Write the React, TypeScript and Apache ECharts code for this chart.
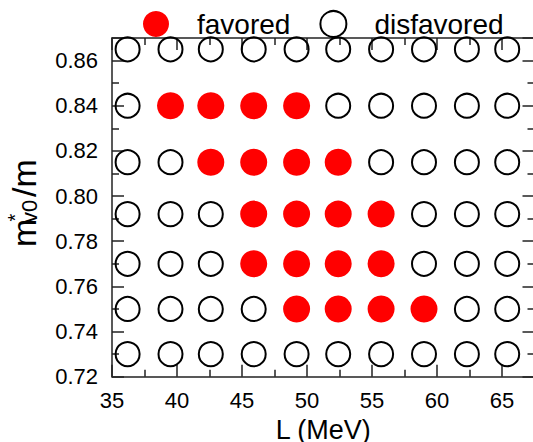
import React, { useEffect, useRef } from "react";
import * as echarts from "echarts";

// L (MeV) positions of the grid columns
const L_VALUES = [36.2, 39.5, 42.6, 45.9, 49.2, 52.4, 55.7, 59.0, 62.3, 65.4];
// m*_v0/m positions of the grid rows
const M_VALUES = [0.73, 0.75, 0.77, 0.792, 0.815, 0.84, 0.865];
// 1 = favored, 0 = disfavored ; one row per M_VALUES entry, one column per L_VALUES entry
const FAVORED = [
  [0, 0, 0, 0, 0, 0, 0, 0, 0, 0],
  [0, 0, 0, 0, 1, 1, 1, 1, 0, 0],
  [0, 0, 0, 1, 1, 1, 1, 0, 0, 0],
  [0, 0, 0, 1, 1, 1, 1, 0, 0, 0],
  [0, 0, 1, 1, 1, 1, 0, 0, 0, 0],
  [0, 1, 1, 1, 1, 0, 0, 0, 0, 0],
  [0, 0, 0, 0, 0, 0, 0, 0, 0, 0],
];
const SERIES_NAMES = ["favored", "disfavored"];
const X_MIN = 35;
const X_MAX = 67.5;
const X_INTERVAL = 5;
const Y_MIN = 0.72;
const Y_MAX = 0.87;
const Y_INTERVAL = 0.02;

const FONT = "'Liberation Sans', Arial, Helvetica, sans-serif";
const NARROW = "'Liberation Sans Narrow', 'Liberation Sans', Arial, sans-serif";

export default function App() {
  const ref = useRef<HTMLDivElement>(null);
  useEffect(() => {
    if (!ref.current) return;
    const chart = echarts.init(ref.current, undefined, { renderer: "svg" });
    const fav: number[][] = [];
    const dis: number[][] = [];
    M_VALUES.forEach((m, r) => {
      L_VALUES.forEach((l, c) => {
        (FAVORED[r][c] ? fav : dis).push([l, m]);
      });
    });
    const line = { color: "#222", width: 1.5 };
    const xBase = {
      type: "value" as const,
      min: X_MIN,
      max: X_MAX,
      interval: X_INTERVAL,
      axisLine: { show: true, onZero: false, lineStyle: line },
      axisTick: { show: true, inside: true, length: 12, lineStyle: line },
      minorTick: { show: true, splitNumber: 2, length: 7, lineStyle: line },
      splitLine: { show: false },
    };
    const yBase = {
      type: "value" as const,
      min: Y_MIN,
      max: Y_MAX,
      interval: Y_INTERVAL,
      axisLine: { show: true, onZero: false, lineStyle: line },
      axisTick: { show: true, inside: true, length: 12, lineStyle: line },
      minorTick: { show: true, splitNumber: 2, length: 7, lineStyle: line },
      splitLine: { show: false },
    };
    chart.setOption({
      animation: false,
      textStyle: { fontFamily: FONT },
      grid: { left: 112, top: 38, width: 422.5, height: 338.7, containLabel: false, outerBoundsMode: "none" },
      legend: {
        data: SERIES_NAMES,
        left: 143,
        top: 10,
        padding: 0,
        itemWidth: 26,
        itemHeight: 26,
        itemGap: 29,
        textStyle: { fontSize: 28, color: "#000", fontFamily: FONT, padding: [0, 0, 0, 23] },
      },
      xAxis: [
        {
          ...xBase,
          position: "bottom",
          axisLabel: { fontSize: 22, color: "#000", margin: 13, showMaxLabel: false, fontFamily: FONT },
          name: "L (MeV)",
          nameLocation: "middle",
          nameGap: 42,
          nameTextStyle: { fontSize: 27, lineHeight: 22, color: "#000", fontFamily: FONT },
        },
        { ...xBase, position: "top", axisLabel: { show: false } },
      ],
      yAxis: [
        {
          ...yBase,
          position: "left",
          axisLabel: {
            fontSize: 22,
            color: "#000",
            margin: 14,
            showMaxLabel: false,
            fontFamily: FONT,
            formatter: (v: number) => v.toFixed(2),
          },
        },
        { ...yBase, position: "right", axisLabel: { show: false } },
      ],
      graphic: [
        {
          type: "group",
          x: 36,
          y: 247,
          rotation: Math.PI / 2,
          children: [
            { type: "text", x: 0, y: -12, style: { text: "m", fontSize: 34, fontFamily: NARROW, fill: "#000", align: "left", verticalAlign: "middle" } },
            { type: "text", x: 24, y: -7, style: { text: "v0", fontSize: 22, fontFamily: FONT, fill: "#000", align: "left", verticalAlign: "middle" } },
            { type: "text", x: 29.5, y: -21, style: { text: "*", fontSize: 20, fontFamily: FONT, fill: "#000", align: "center", verticalAlign: "middle" } },
            { type: "text", x: 50, y: -12, style: { text: "/m", fontSize: 34, fontFamily: NARROW, fill: "#000", align: "left", verticalAlign: "middle" } },
          ],
        },
      ],
      series: [
        {
          type: "scatter",
          name: SERIES_NAMES[0],
          symbol: "circle",
          symbolSize: 27,
          itemStyle: { color: "#ff0000", opacity: 1 },
          data: fav,
          z: 3,
        },
        {
          type: "scatter",
          name: SERIES_NAMES[1],
          symbol: "circle",
          symbolSize: 24,
          itemStyle: { color: "rgba(255,255,255,0)", borderColor: "#000", borderWidth: 2, opacity: 1 },
          data: dis,
          z: 3,
        },
      ],
    });
    return () => chart.dispose();
  }, []);
  return (
    <div
      ref={ref}
      style={{ position: "absolute", left: 0, top: 0, width: 533, height: 442, background: "#fff" }}
    />
  );
}
